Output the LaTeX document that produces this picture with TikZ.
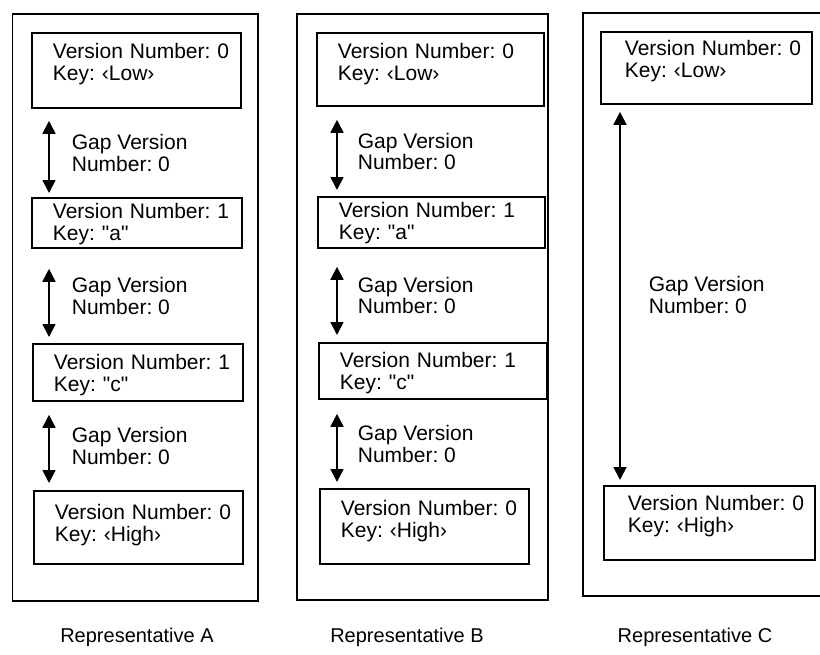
\documentclass[tikz,border=0pt]{standalone}
\usepackage{fontspec}
\setmainfont{Liberation Sans}
\usetikzlibrary{arrows.meta}
\frenchspacing
\newcommand{\qq}{\textquotedbl}
\tikzset{
  repframe/.style={draw,line width=1.6pt},
  vbox/.style={draw,line width=1.8pt,anchor=north west,align=left,
    inner xsep=21pt,inner ysep=0pt,font=\fontsize{21}{21.5}\selectfont},
  gaparrow/.style={{Triangle[width=13pt,length=13pt]}-{Triangle[width=13pt,length=13pt]},
    line width=1.8pt},
  gaptext/.style={anchor=west,align=left,inner sep=0pt,
    font=\fontsize{21}{21.5}\selectfont},
  repname/.style={anchor=base,font=\fontsize{20}{24}\selectfont}
}

\begin{document}
\begin{tikzpicture}[x=1pt,y=-1pt]
  \useasboundingbox (0,0) rectangle (820,654);
  \draw[repframe] (12.5,14) rectangle (258,601);
  \draw[repframe] (297,14) rectangle (548,600);
  \draw[repframe] (821,13) -- (583,13) -- (583,596) -- (821,596);

  \node[vbox,text width=167pt,text height=26pt,text depth=49pt] (a1) at (31,32) {\mbox{Version Number: 0}\\Key: ‹Low›};
  \node[vbox,text width=168pt,text height=21pt,text depth=29pt] (a2) at (31,197) {\mbox{Version Number: 1}\\Key: \qq a\qq};
  \node[vbox,text width=168pt,text height=26pt,text depth=31pt] (a3) at (32,343) {\mbox{Version Number: 1}\\Key: \qq c\qq};
  \node[vbox,text width=167pt,text height=29pt,text depth=44pt] (a4) at (33,490) {\mbox{Version Number: 0}\\Key: ‹High›};
  \draw[gaparrow,shorten <=12pt,shorten >=4pt] ([xshift=18pt]a1.south west) -- ([xshift=18pt]a2.north west)
    node[gaptext,midway,xshift=22pt] {Gap Version\\Number: 0};
  \draw[gaparrow,shorten <=20pt,shorten >=6pt] ([xshift=18pt]a2.south west) -- ([xshift=17pt]a3.north west)
    node[gaptext,midway,xshift=22pt] {Gap Version\\Number: 0};
  \draw[gaparrow,shorten <=13pt,shorten >=7pt] ([xshift=17pt]a3.south west) -- ([xshift=16pt]a4.north west)
    node[gaptext,midway,xshift=22pt] {Gap Version\\Number: 0};

  \node[vbox,text width=185pt,text height=26pt,text depth=47pt] (b1) at (316,32) {\mbox{Version Number: 0}\\Key: ‹Low›};
  \node[vbox,text width=185pt,text height=21pt,text depth=30pt] (b2) at (317,196) {\mbox{Version Number: 1}\\Key: \qq a\qq};
  \node[vbox,text width=186pt,text height=25pt,text depth=31pt] (b3) at (318,342) {\mbox{Version Number: 1}\\Key: \qq c\qq};
  \node[vbox,text width=167pt,text height=27pt,text depth=48pt] (b4) at (319,488) {\mbox{Version Number: 0}\\Key: ‹High›};
  \draw[gaparrow,shorten <=13pt,shorten >=6pt] ([xshift=21pt]b1.south west) -- ([xshift=20pt]b2.north west)
    node[gaptext,midway,xshift=20pt] {Gap Version\\Number: 0};
  \draw[gaparrow,shorten <=18pt,shorten >=7pt] ([xshift=20pt]b2.south west) -- ([xshift=19pt]b3.north west)
    node[gaptext,midway,xshift=20pt] {Gap Version\\Number: 0};
  \draw[gaparrow,shorten <=14pt,shorten >=6pt] ([xshift=19pt]b3.south west) -- ([xshift=18pt]b4.north west)
    node[gaptext,midway,xshift=20pt] {Gap Version\\Number: 0};

  \node[vbox,inner xsep=24pt,text width=163pt,text height=24pt,text depth=48pt] (c1) at (600,31) {\mbox{Version Number: 0}\\Key: ‹Low›};
  \node[vbox,inner xsep=24pt,text width=163pt,text height=25pt,text depth=49pt] (c2) at (603,485) {\mbox{Version Number: 0}\\Key: ‹High›};
  \draw[gaparrow,shorten <=7pt,shorten >=5pt] ([xshift=20pt]c1.south west) -- ([xshift=17pt]c2.north west)
    node[gaptext,midway,xshift=28pt] {Gap Version\\Number: 0};

  \node[repname] (ra) at (137,642) {Representative A};
  \node[repname] (rb) at (407,642) {Representative B};
  \node[repname] (rc) at (695,642) {Representative C};
\end{tikzpicture}
\end{document}
